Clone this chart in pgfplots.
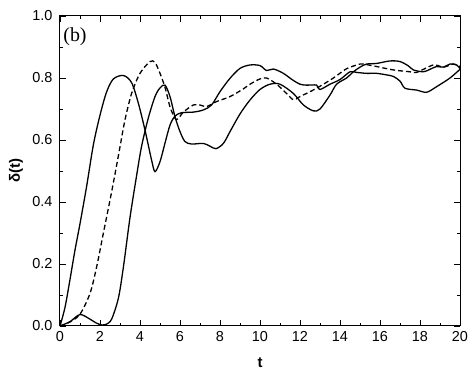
\documentclass[border=0pt]{standalone}
\usepackage{fontspec}
\setmainfont{Liberation Sans}
\newfontfamily\seriffont{Liberation Serif}
\usepackage{pgfplots}
\pgfplotsset{compat=1.18}
\begin{document}
\begin{tikzpicture}
\begin{axis}[
  scale only axis, width=400bp, height=310bp,
  xmin=0, xmax=20, ymin=0, ymax=1,
  xtick={0,2,4,6,8,10,12,14,16,18,20},
  ytick={0,0.2,0.4,0.6,0.8,1.0},
  minor x tick num=1, minor y tick num=1,
  tick align=inside, major tick length=6bp, minor tick length=3bp,
  axis line style={line width=1bp},
  every tick/.style={black, line width=0.8bp},
  /pgf/number format/assume math mode=true,
  yticklabel style={/pgf/number format/fixed, /pgf/number format/fixed zerofill, /pgf/number format/precision=1, xshift=-4bp},
  xticklabel style={yshift=-2bp},
  ticklabel style={font=\fontsize{14.5}{15}\selectfont},
  xlabel={\textbf{t}}, ylabel={\textbf{δ(t)}},
  label style={font=\fontsize{15}{16}\selectfont},
  x label style={at={(axis description cs:0.5,-0.117)}, anchor=center},
  y label style={at={(axis description cs:-0.11,0.50)}, anchor=center},
  clip=false,
]
% curve A (fast)
\addplot[smooth, black, line width=1.3bp] coordinates {
(0,0) (0.25,0.06) (0.5,0.15) (0.75,0.245) (1.0,0.33) (1.33,0.45) (1.67,0.585) (2.0,0.68) (2.33,0.755) (2.67,0.797) (3.17,0.808) (3.58,0.785) (3.92,0.718) (4.25,0.632) (4.58,0.535) (4.75,0.498) (5.0,0.53) (5.25,0.59) (5.5,0.648) (5.75,0.677) (6.08,0.688) (6.67,0.69) (7.17,0.697) (7.58,0.713) (8.0,0.756) (8.5,0.799) (9.0,0.831) (9.5,0.842) (10,0.84) (10.33,0.824) (10.67,0.829) (11.17,0.815) (11.6,0.795) (12.0,0.78) (12.33,0.777) (12.83,0.777) (13.0,0.763) (13.5,0.78) (14,0.795) (14.5,0.82) (14.83,0.818) (15.33,0.815) (15.83,0.815) (16.33,0.81) (16.67,0.805) (17,0.79) (17.25,0.767) (17.83,0.761) (18.33,0.754) (18.83,0.772) (19.5,0.80) (20,0.828)
};
% dashed curve
\addplot[smooth, black, line width=1.3bp, dash pattern=on 5bp off 3bp] coordinates {
(0,0) (0.5,0.013) (1.0,0.038) (1.5,0.105) (1.83,0.19) (2.17,0.30) (2.5,0.406) (2.75,0.49) (3.0,0.578) (3.25,0.665) (3.58,0.75) (4.0,0.815) (4.5,0.853) (4.75,0.85) (5.0,0.815) (5.25,0.77) (5.5,0.707) (5.75,0.67) (5.9,0.668) (6.17,0.69) (6.67,0.713) (7.0,0.713) (7.33,0.708) (7.83,0.724) (8.5,0.74) (9.17,0.765) (9.5,0.78) (10,0.797) (10.33,0.80) (10.83,0.78) (11.33,0.75) (11.67,0.73) (12,0.74) (12.83,0.767) (13.67,0.80) (14.33,0.83) (15,0.845) (15.17,0.845) (15.83,0.837) (16.67,0.826) (17.5,0.82) (17.83,0.818) (18.67,0.842) (19.17,0.835) (19.67,0.845) (20,0.837)
};
% curve B (slow)
\addplot[smooth, black, line width=1.3bp] coordinates {
(0,0) (0.5,0.014) (1.0,0.037) (1.5,0.022) (1.8,0.01) (2.1,0.003) (2.3,0.005) (2.58,0.022) (2.92,0.09) (3.17,0.19) (3.5,0.35) (3.83,0.485) (4.08,0.58) (4.42,0.672) (4.75,0.74) (5.0,0.768) (5.25,0.777) (5.5,0.74) (5.75,0.675) (6.0,0.627) (6.25,0.595) (6.58,0.587) (7.17,0.589) (7.5,0.58) (7.8,0.572) (8.17,0.589) (8.5,0.627) (9.0,0.684) (9.5,0.729) (10,0.763) (10.5,0.78) (11,0.78) (11.67,0.75) (12.17,0.713) (12.67,0.694) (13,0.70) (13.5,0.745) (13.83,0.78) (14.33,0.80) (14.67,0.82) (15.0,0.835) (15.33,0.845) (15.83,0.847) (16.5,0.855) (17,0.853) (17.42,0.839) (17.67,0.826) (18.17,0.82) (18.5,0.828) (18.83,0.837) (19.17,0.835) (19.5,0.845) (19.83,0.842) (20,0.83)
};
\node[anchor=west, font=\seriffont\fontsize{20}{21}\selectfont, inner sep=0pt] at (axis description cs:0.008,0.932) {(b)};
\end{axis}
\path (current axis.south west) ++(-60bp,-44bp) rectangle ([shift={(16bp,16bp)}]current axis.north east);
\end{tikzpicture}
\end{document}
